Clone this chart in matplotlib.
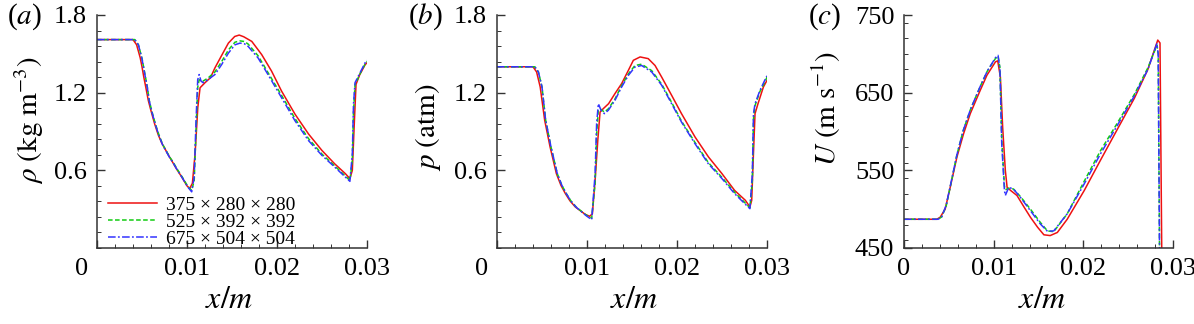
import matplotlib
matplotlib.use("Agg")
import matplotlib.pyplot as plt
from matplotlib.ticker import MultipleLocator, AutoMinorLocator
from matplotlib.transforms import ScaledTranslation

plt.rcParams['font.family'] = ['Liberation Serif', 'DejaVu Serif']
plt.rcParams['mathtext.fontset'] = 'stix'

SERIF = ['Liberation Serif', 'DejaVu Serif']

labels = ['375 × 280 × 280', '525 × 392 × 392', '675 × 504 × 504']

# ---------------- panel (a): density ----------------
xa_red = [0, 0.0040, 0.0044, 0.0048, 0.0050, 0.0052, 0.0054, 0.0057, 0.0060, 0.0064,
          0.0068, 0.0072, 0.0076, 0.0080, 0.0083, 0.0088, 0.0094,
          0.0100, 0.0103, 0.0106, 0.0109, 0.0112, 0.01145, 0.0120, 0.0126, 0.0131, 0.0139,
          0.0146, 0.0153, 0.0158, 0.0163, 0.0172, 0.0183, 0.0194, 0.0205, 0.0220, 0.0235, 0.0250,
          0.0264, 0.0276, 0.0281, 0.02837, 0.0286, 0.02878, 0.0292, 0.0298, 0.0300]
ya_red = [1.61, 1.61, 1.57, 1.47, 1.40, 1.32, 1.25, 1.14, 1.06, 0.96,
          0.875, 0.81, 0.76, 0.71, 0.675, 0.615, 0.55,
          0.48, 0.46, 0.50, 0.73, 1.085, 1.238, 1.277, 1.315, 1.391, 1.494,
          1.583, 1.634, 1.645, 1.632, 1.596, 1.494, 1.366, 1.213, 1.034, 0.881, 0.753,
          0.651, 0.574, 0.536, 0.60, 0.983, 1.264, 1.34, 1.417, 1.43]
xa_fine = [0, 0.0042, 0.0046, 0.0050, 0.0052, 0.0054, 0.0056, 0.0058, 0.0061, 0.0065,
           0.0069, 0.0073, 0.0077, 0.0081, 0.0084, 0.0089, 0.0095,
           0.0101, 0.01052, 0.0108, 0.0110, 0.01119, 0.01135, 0.01156, 0.0118, 0.01237, 0.0131,
           0.01385, 0.0146, 0.01533, 0.0159, 0.0164, 0.0168, 0.0179, 0.0190, 0.0205, 0.0220, 0.0235,
           0.0250, 0.0264, 0.0279, 0.0281, 0.02837, 0.0285, 0.02867, 0.02922, 0.02978, 0.0300]
ya_green = [1.61, 1.61, 1.57, 1.465, 1.39, 1.315, 1.24, 1.14, 1.055, 0.955,
            0.87, 0.80, 0.75, 0.70, 0.67, 0.61, 0.545,
            0.475, 0.445, 0.52, 0.90, 1.24, 1.30, 1.295, 1.29, 1.315, 1.36,
            1.44, 1.53, 1.59, 1.60, 1.595, 1.575, 1.485, 1.355, 1.18, 1.0, 0.845,
            0.725, 0.635, 0.535, 0.52, 0.68, 1.05, 1.26, 1.345, 1.42, 1.44]
ya_blue = [1.61, 1.61, 1.57, 1.46, 1.385, 1.31, 1.235, 1.14, 1.05, 0.95,
           0.865, 0.795, 0.745, 0.695, 0.665, 0.605, 0.54,
           0.47, 0.434, 0.55, 0.98, 1.30, 1.34, 1.289, 1.277, 1.302, 1.34,
           1.417, 1.506, 1.57, 1.583, 1.577, 1.557, 1.468, 1.34, 1.162, 0.983, 0.83,
           0.715, 0.626, 0.528, 0.515, 0.728, 1.11, 1.277, 1.353, 1.43, 1.45]

# ---------------- panel (b): pressure ----------------
xb_red = [0, 0.0040, 0.0044, 0.0048, 0.0053, 0.0059, 0.0066, 0.0071, 0.0076, 0.0081, 0.0087, 0.0098,
          0.0103, 0.0106, 0.0109, 0.0112, 0.01145, 0.0118, 0.0124, 0.0131, 0.01385, 0.0146,
          0.01515, 0.0159, 0.0168, 0.01756, 0.0183, 0.0194, 0.0205, 0.0220, 0.0235, 0.0250,
          0.0264, 0.0276, 0.0281, 0.0283, 0.02848, 0.02867, 0.0290, 0.0296, 0.0300]
yb_red = [1.40, 1.40, 1.36, 1.244, 0.986, 0.78, 0.574, 0.485, 0.42, 0.365, 0.317, 0.26,
          0.245, 0.265, 0.523, 0.832, 1.05, 1.076, 1.115, 1.192, 1.27, 1.373,
          1.45, 1.476, 1.463, 1.41, 1.32, 1.18, 1.038, 0.858, 0.703, 0.574,
          0.445, 0.368, 0.317, 0.368, 0.703, 1.038, 1.115, 1.244, 1.295]
xb_fine = [0, 0.0042, 0.0046, 0.0050, 0.0054, 0.0060, 0.0067, 0.0072, 0.0077, 0.0082, 0.0088, 0.0099,
           0.01052, 0.0109, 0.01107, 0.01126, 0.01156, 0.01193, 0.01237, 0.0131, 0.01385, 0.0146,
           0.01533, 0.01607, 0.01719, 0.0183, 0.0194, 0.0205, 0.0220, 0.02348, 0.0250, 0.0264,
           0.0279, 0.0281, 0.02837, 0.0285, 0.02867, 0.02922, 0.02978, 0.0300]
yb_green = [1.40, 1.40, 1.36, 1.244, 0.99, 0.78, 0.574, 0.485, 0.42, 0.365, 0.316, 0.255,
            0.23, 0.50, 0.88, 1.07, 1.07, 1.05, 1.075, 1.15, 1.255, 1.345,
            1.41, 1.42, 1.37, 1.265, 1.125, 0.98, 0.815, 0.66, 0.545, 0.43,
            0.325, 0.31, 0.52, 1.00, 1.10, 1.21, 1.285, 1.32]
yb_blue = [1.40, 1.40, 1.36, 1.244, 0.99, 0.78, 0.574, 0.485, 0.42, 0.363, 0.315, 0.25,
           0.219, 0.574, 0.96, 1.115, 1.064, 1.038, 1.064, 1.14, 1.244, 1.334,
           1.398, 1.41, 1.36, 1.257, 1.115, 0.973, 0.806, 0.651, 0.536, 0.42,
           0.317, 0.304, 0.574, 1.038, 1.115, 1.218, 1.30, 1.33]

# ---------------- panel (c): velocity ----------------
xc_red = [0, 0.00366, 0.00403, 0.00459, 0.00515, 0.0059, 0.00664, 0.00739, 0.0085, 0.00925,
          0.0102, 0.01045, 0.01075, 0.0110, 0.0113, 0.0115, 0.0119, 0.0126, 0.0134, 0.0141,
          0.0149, 0.0156, 0.0163, 0.0171, 0.0182, 0.0201, 0.0219, 0.0238, 0.0257, 0.0272,
          0.0283, 0.02855, 0.02875]
uc_red = [487, 487, 489.6, 500, 528, 567, 597, 623, 653, 672.5,
          689.7, 691, 670, 606, 550, 528, 524, 517.6, 502.5, 489.6,
          476.7, 467, 466, 470, 487, 524, 562.8, 603, 643, 680,
          717.7, 714, 440]
xc_fine = [0, 0.0038, 0.0042, 0.0047, 0.0052, 0.0059, 0.0066, 0.0074, 0.0085, 0.0093,
           0.0102, 0.01049, 0.0107, 0.0109, 0.0112, 0.0113, 0.01168, 0.0122, 0.0130, 0.0141,
           0.0152, 0.0160, 0.0167, 0.0182, 0.0201, 0.0219, 0.0238, 0.0257, 0.0272, 0.0282,
           0.02835, 0.0285]
uc_green = [487, 487, 490, 504, 531, 570, 601, 628, 658, 678,
            694, 697, 682, 590, 530, 525, 527, 526, 516, 500,
            483, 472, 471, 494, 536, 575, 611, 648, 682, 711,
            700, 440]
uc_blue = [487, 487, 490, 505, 532, 570, 601, 628, 658, 678,
           695, 698, 680, 584, 524, 517.6, 528, 526, 515, 498,
           481, 471.5, 472, 494, 532.6, 571, 608, 646, 680, 713,
           700, 440]

W, H = 1194, 324
fig = plt.figure(figsize=(W / 100, H / 100), dpi=100)

def px_axes(left, right, top, bottom):
    return fig.add_axes([left / W, 1 - bottom / H, (right - left) / W, (bottom - top) / H])

axA = px_axes(97, 367, 15, 248)
axB = px_axes(497, 767, 15, 248)
axC = px_axes(904, 1173, 15, 248)

red_kw = dict(color='#ee1111', lw=1.1, solid_joinstyle='round')
green_kw = dict(color='#11cc11', lw=1.1, dashes=(3, 1.6))
blue_kw = dict(color='#3333ff', lw=1.1, dashes=(5, 1.5, 1.2, 1.5))

axA.plot(xa_red, ya_red, label=labels[0], **red_kw)
axA.plot(xa_fine, ya_green, label=labels[1], **green_kw)
axA.plot(xa_fine, ya_blue, label=labels[2], **blue_kw)

axB.plot(xb_red, yb_red, **red_kw)
axB.plot(xb_fine, yb_green, **green_kw)
axB.plot(xb_fine, yb_blue, **blue_kw)

axC.plot(xc_red, uc_red, **red_kw)
axC.plot(xc_fine, uc_green, **green_kw)
axC.plot(xc_fine, uc_blue, **blue_kw)

tick_fs = 19
for ax in (axA, axB, axC):
    ax.set_xlim(0, 0.03)
    for s in ('top', 'right'):
        ax.spines[s].set_visible(False)
    for s in ('left', 'bottom'):
        ax.spines[s].set_linewidth(1.1)
        ax.spines[s].set_color('#333333')
    ax.xaxis.set_major_locator(MultipleLocator(0.01))
    ax.xaxis.set_minor_locator(AutoMinorLocator(5))
    ax.tick_params(which='both', direction='in', colors='#333333', labelcolor='black',
                   labelsize=tick_fs, top=False, right=False)
    ax.tick_params(which='major', length=6, width=1.0, pad=7)
    ax.tick_params(which='minor', length=3, width=0.7)
    ax.set_xticks([0, 0.01, 0.02, 0.03])
    ax.set_xticklabels(['0', '0.01', '0.02', '0.03'], fontfamily=SERIF)
    ax.set_xlabel(r'$x/m$', fontsize=23)

for ax in (axA, axB):
    ax.set_ylim(0, 1.8)
    ax.set_yticks([0.6, 1.2, 1.8])
    ax.set_yticklabels(['0.6', '1.2', '1.8'], fontfamily=SERIF)
    ax.yaxis.set_minor_locator(MultipleLocator(0.12))
    lab0 = ax.get_xticklabels()[0]
    lab0.set_transform(lab0.get_transform() + ScaledTranslation(-0.15, 0, fig.dpi_scale_trans))

axC.set_ylim(450, 750)
axC.set_yticks([450, 550, 650, 750])
axC.set_yticklabels(['450', '550', '650', '750'], fontfamily=SERIF)
axC.yaxis.set_minor_locator(MultipleLocator(20))

axA.set_ylabel(r'$\rho\ (\mathrm{kg\ m^{-3}})$', fontsize=21)
axB.set_ylabel(r'$p\ (\mathrm{atm})$', fontsize=21)
axC.set_ylabel(r'$U\ (\mathrm{m\ s^{-1}})$', fontsize=21)
axA.yaxis.set_label_coords(-0.19, 0.55)
axB.yaxis.set_label_coords(-0.20, 0.52)
axC.yaxis.set_label_coords(-0.225, 0.60)
axA.xaxis.set_label_coords(0.49, -0.165)
axB.xaxis.set_label_coords(0.51, -0.165)
axC.xaxis.set_label_coords(0.513, -0.165)

leg = axA.legend(loc='lower left', bbox_to_anchor=(11 / 270, 0.0), frameon=False,
                 prop={'family': SERIF, 'size': 14}, handlelength=2.5, handletextpad=0.5,
                 labelspacing=-0.02, borderpad=0.0, borderaxespad=0.0)

for txt, xpx in (('a', 7), ('b', 408), ('c', 808)):
    fig.text(xpx / W, 1 - 17 / H, '(' + r'$' + txt + r'$' + ')', fontsize=21,
             ha='left', va='center', family=SERIF)

fig.savefig('out.png', dpi=100)
